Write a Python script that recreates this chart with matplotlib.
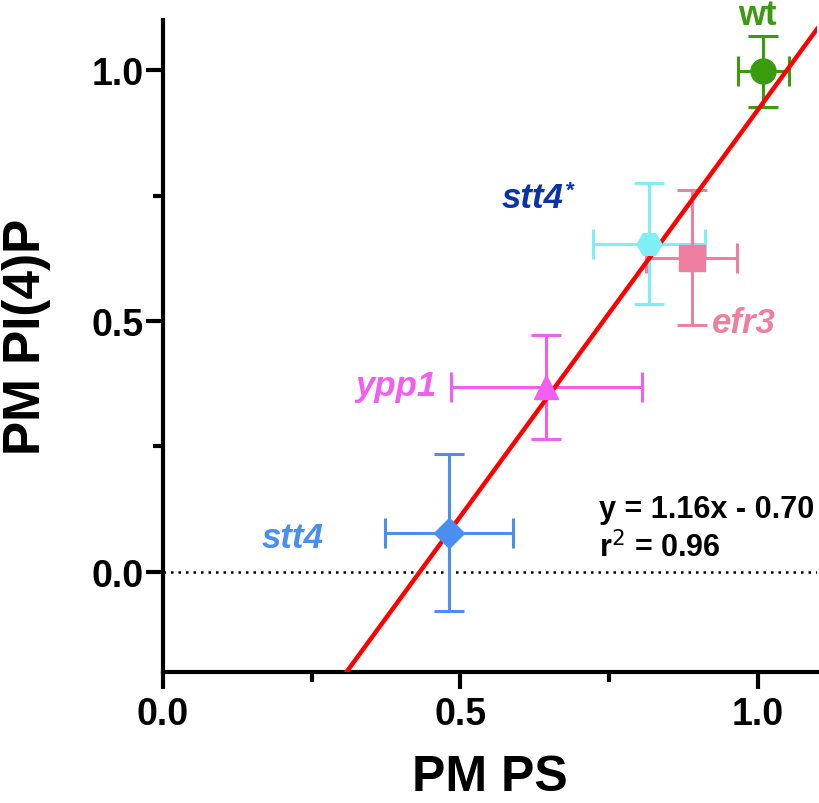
import matplotlib
matplotlib.use("Agg")
import matplotlib.pyplot as plt
from matplotlib.ticker import FixedLocator, FormatStrFormatter

plt.rcParams['font.family'] = ['Liberation Sans', 'DejaVu Sans']

# Data
strains = ['wt', 'stt4*', 'efr3', 'ypp1', 'stt4']
pm_ps = [1.010, 0.817, 0.889, 0.645, 0.481]
pm_ps_err = [0.043, 0.094, 0.076, 0.160, 0.108]
pm_pi4p = [0.998, 0.654, 0.626, 0.368, 0.078]
pm_pi4p_err = [0.071, 0.121, 0.135, 0.103, 0.157]
colors = ['#3a9b0e', '#80eef6', '#ef7fa0', '#f25ef0', '#4a8ef0']
label_colors = ['#3a9b0e', '#0a33a8', '#ef7fa0', '#f25ef0', '#4a8ef0']
markers = ['o', 'H', 's', '^', 'D']
marker_sizes = [18, 18, 19, 17, 15]

fit_slope = 1.62
fit_intercept = -0.70
eq_text = 'y = 1.16x - 0.70'
r2_text = 'r$^{2}$ = 0.96'

x_ticks = [0.0, 0.5, 1.0]
x_minor = [0.25, 0.75]
y_ticks = [0.0, 0.5, 1.0]
y_minor = [0.25, 0.75]

fig = plt.figure(figsize=(8.2, 8.04), dpi=100)
ax = fig.add_axes([163/820, 1 - 673/804, (817 - 163)/820, (673 - 21)/804])
ax.set_xlim(0, 1.1)
ax.set_ylim(-0.2, 1.1)

for s in ['top', 'right']:
    ax.spines[s].set_visible(False)
for s in ['left', 'bottom']:
    ax.spines[s].set_linewidth(3)

ax.axhline(0, color='black', lw=1.8, dashes=(1, 2.0), zorder=1)

for i in range(len(strains)):
    ax.errorbar(pm_ps[i], pm_pi4p[i], xerr=pm_ps_err[i], yerr=pm_pi4p_err[i],
                fmt='none', ecolor=colors[i], elinewidth=2.2, capsize=10.5,
                capthick=2.2, zorder=2)

ax.axline((0, fit_intercept), slope=fit_slope, color='#ff0000', lw=3.2, zorder=3)

for i in range(len(strains)):
    ax.plot(pm_ps[i], pm_pi4p[i], marker=markers[i], ms=marker_sizes[i],
            color=colors[i], mec=colors[i], ls='none', zorder=4)

ax.xaxis.set_major_locator(FixedLocator(x_ticks))
ax.xaxis.set_minor_locator(FixedLocator(x_minor))
ax.yaxis.set_major_locator(FixedLocator(y_ticks))
ax.yaxis.set_minor_locator(FixedLocator(y_minor))
ax.xaxis.set_major_formatter(FormatStrFormatter('%.1f'))
ax.yaxis.set_major_formatter(FormatStrFormatter('%.1f'))
ax.tick_params(which='major', length=12.5, width=3, labelsize=27, pad=5)
ax.tick_params(axis='y', which='major', pad=1.5)
ax.tick_params(which='minor', length=7.5, width=3)
for lab in ax.get_xticklabels() + ax.get_yticklabels():
    lab.set_fontweight('bold')

# Strain labels
fs = 25
ax.text(1.0, 1.092, 'wt', color=label_colors[0], fontsize=fs, fontweight='bold',
        ha='center', va='baseline')
ax.text(0.570, 0.728, 'stt4', color=label_colors[1], fontsize=fs, fontweight='bold',
        style='italic', ha='left', va='baseline')
ax.text(0.677, 0.750, '*', color=label_colors[1], fontsize=16, fontweight='bold',
        ha='left', va='baseline')
ax.text(0.923, 0.477, 'efr3', color=label_colors[2], fontsize=fs, fontweight='bold',
        style='italic', ha='left', va='baseline')
ax.text(0.323, 0.352, 'ypp1', color=label_colors[3], fontsize=fs, fontweight='bold',
        style='italic', ha='left', va='baseline')
ax.text(0.166, 0.050, 'stt4', color=label_colors[4], fontsize=fs, fontweight='bold',
        style='italic', ha='left', va='baseline')

ax.text((599 - 163)/595, (573 - 518)/503, eq_text, fontsize=22, fontweight='bold',
        ha='left', va='baseline')
ax.text((599 - 163)/595, (573 - 558)/503, r2_text, fontsize=22, fontweight='bold',
        ha='left', va='baseline')

fig.text(490/820, 1 - 791/804, 'PM PS', fontsize=36, fontweight='bold',
         ha='center', va='baseline')
fig.text(40/820, 1 - 337/804, 'PM PI(4)P', fontsize=37, fontweight='bold',
         rotation=90, rotation_mode='anchor', ha='center', va='baseline')

fig.savefig('out.png', dpi=100)
